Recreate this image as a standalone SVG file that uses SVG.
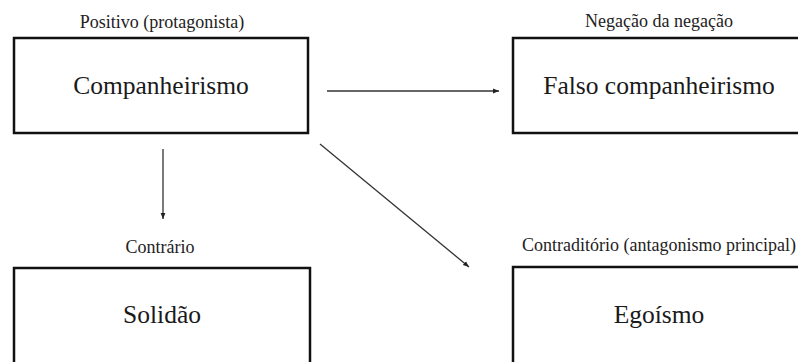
<svg xmlns="http://www.w3.org/2000/svg" width="798" height="362" viewBox="0 0 798 362">
<defs>
<style>
.box{fill:#fff;stroke:#111;stroke-width:2.5}
.lbl{font-family:'Liberation Serif','DejaVu Serif',serif;font-size:18px;fill:#222;text-anchor:middle}
.main{font-family:'Liberation Serif','DejaVu Serif',serif;font-size:25.5px;fill:#1a1a1a;text-anchor:middle}
.conn{stroke:#333;stroke-width:1.3;fill:none;marker-end:url(#ah)}
</style>
<marker id="ah" viewBox="0 0 10 10" refX="10" refY="5" markerWidth="6" markerHeight="6" markerUnits="userSpaceOnUse" orient="auto">
<path d="M0,1 L10,5 L0,9 z" fill="#222"/>
</marker>
</defs>
<rect width="798" height="362" fill="#fff"/>
<g id="node-companheirismo">
<text class="lbl" x="162" y="28">Positivo (protagonista)</text>
<rect class="box" x="14" y="38" width="294" height="95"/>
<text class="main" x="161" y="94">Companheirismo</text>
</g>
<g id="node-falso">
<text class="lbl" x="659" y="27">Negação da negação</text>
<rect class="box" x="513" y="38" width="300" height="95"/>
<text class="main" x="659" y="94">Falso companheirismo</text>
</g>
<g id="node-solidao">
<text class="lbl" x="160" y="253">Contrário</text>
<rect class="box" x="14" y="268" width="296" height="110"/>
<text class="main" x="162" y="323">Solidão</text>
</g>
<g id="node-egoismo">
<text class="lbl" x="659" y="251">Contraditório (antagonismo principal)</text>
<rect class="box" x="513" y="267" width="300" height="110"/>
<text class="main" x="659" y="323">Egoísmo</text>
</g>
<g id="connectors">
<line class="conn" x1="327" y1="91" x2="499" y2="91"/>
<line class="conn" x1="163" y1="149" x2="163" y2="219"/>
<line class="conn" x1="320" y1="144" x2="469" y2="267"/>
</g>
</svg>
